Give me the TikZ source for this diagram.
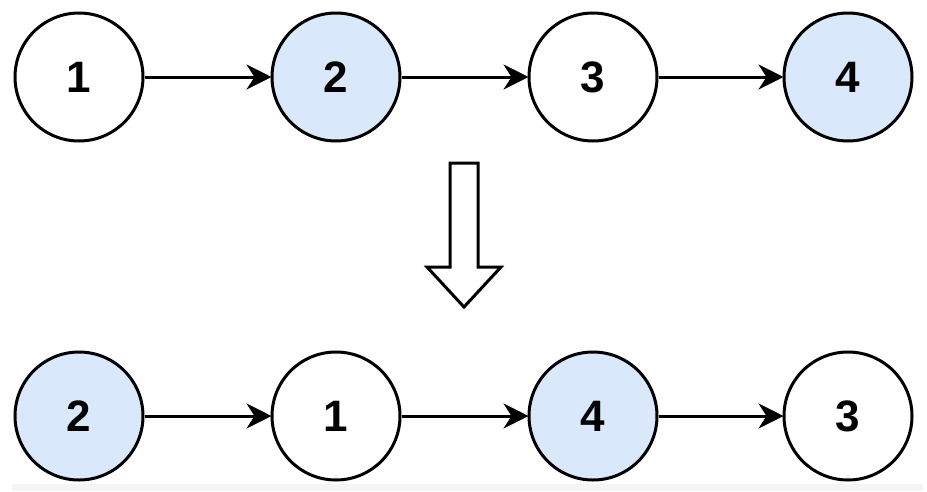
\documentclass[tikz,border=0pt]{standalone}
\usepackage{fontspec}
\setmainfont{Liberation Sans}
\usetikzlibrary{arrows.meta}
\definecolor{nodeblue}{HTML}{DAE8FC}
\definecolor{strip}{HTML}{F4F5F7}
\begin{document}
\begin{tikzpicture}[x=1pt,y=-1pt,
  listnode/.style={circle,draw=black,line width=3pt,minimum size=128pt,inner sep=0pt,font=\fontsize{44}{44}\selectfont\bfseries,fill=white},
  bluenode/.style={listnode,fill=nodeblue},
  link/.style={line width=3pt,-{Stealth[length=25pt,width=25pt,inset=8pt]},shorten >=-1pt}]
\useasboundingbox (0,0) rectangle (927,491);
\fill[strip] (12,484) rectangle (923,491);
% top row
\node[listnode] (t1) at (79,77) {1};
\node[bluenode] (t2) at (336,77) {2};
\node[listnode] (t3) at (593,77) {3};
\node[bluenode] (t4) at (848,77) {4};
\draw[link] (t1) -- (t2);
\draw[link] (t2) -- (t3);
\draw[link] (t3) -- (t4);
% block arrow
\draw[line width=3pt,fill=white,line join=miter] (450,163) -- (478,163) -- (478,267) -- (501,267) -- (464,307) -- (427,267) -- (450,267) -- cycle;
% bottom row
\node[bluenode] (b1) at (79,416) {2};
\node[listnode] (b2) at (336,416) {1};
\node[bluenode] (b3) at (593,416) {4};
\node[listnode] (b4) at (848,416) {3};
\draw[link] (b1) -- (b2);
\draw[link] (b2) -- (b3);
\draw[link] (b3) -- (b4);
\end{tikzpicture}
\end{document}
